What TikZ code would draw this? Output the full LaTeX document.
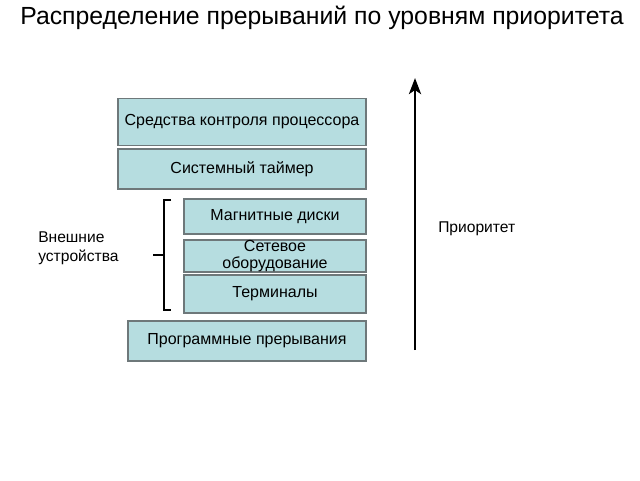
\documentclass[tikz,border=0pt]{standalone}
\usepackage{fontspec}
\setmainfont{Liberation Sans}
\usetikzlibrary{arrows.meta}
\definecolor{boxfill}{RGB}{182,221,224}
\definecolor{boxline}{RGB}{110,120,122}
\begin{document}
\begin{tikzpicture}[x=0.75pt,y=-0.75pt,
  level/.style={draw=boxline,fill=boxfill,line width=0.9pt,inner sep=0pt,
    font=\fontsize{12}{12.5}\selectfont,align=center},
  label/.style={font=\fontsize{11.7}{14}\selectfont,align=left,inner sep=0pt}]
 \useasboundingbox (0,0) rectangle (640,480);

 \node (title) at (322,18) {\fontsize{18.6}{22}\selectfont Распределение прерываний по уровням приоритета};

 \node[level,minimum width=186pt,minimum height=35.25pt] (cpu) at (242,122) {Средства контроля процессора};
 \node[level,minimum width=186pt,minimum height=30pt] (timer) at (242,169) {Системный таймер};
 \node[level,minimum width=136.5pt,minimum height=26.25pt] (disks) at (275,216.5) {Магнитные диски};
 \node[level,minimum width=136.5pt,minimum height=23.25pt,font=\fontsize{12}{13.2}\selectfont] (net) at (275,256) {Сетевое\\оборудование};
 \node[level,minimum width=136.5pt,minimum height=28.5pt] (term) at (275,294) {Терминалы};
 \node[level,minimum width=178.5pt,minimum height=30pt] (soft) at (247,341) {Программные прерывания};

 % brace
 \draw[line width=2.2pt] (171,200) -- (164,200) -- (164,310) -- (171,310);
 \draw[line width=2.2pt] (153,255) -- (164,255);
 \node[label,anchor=west] (ext) at (38,248) {Внешние\\устройства};

 % priority axis
 \coordinate (low) at (415,350);
 \coordinate (high) at (415,78);
 \draw[line width=2.2pt,-{Stealth[length=12pt,width=9pt,inset=3pt]}] (low) -- (high);
 \node[label,anchor=west] (prio) at (438,229) {Приоритет};
\end{tikzpicture}
\end{document}
